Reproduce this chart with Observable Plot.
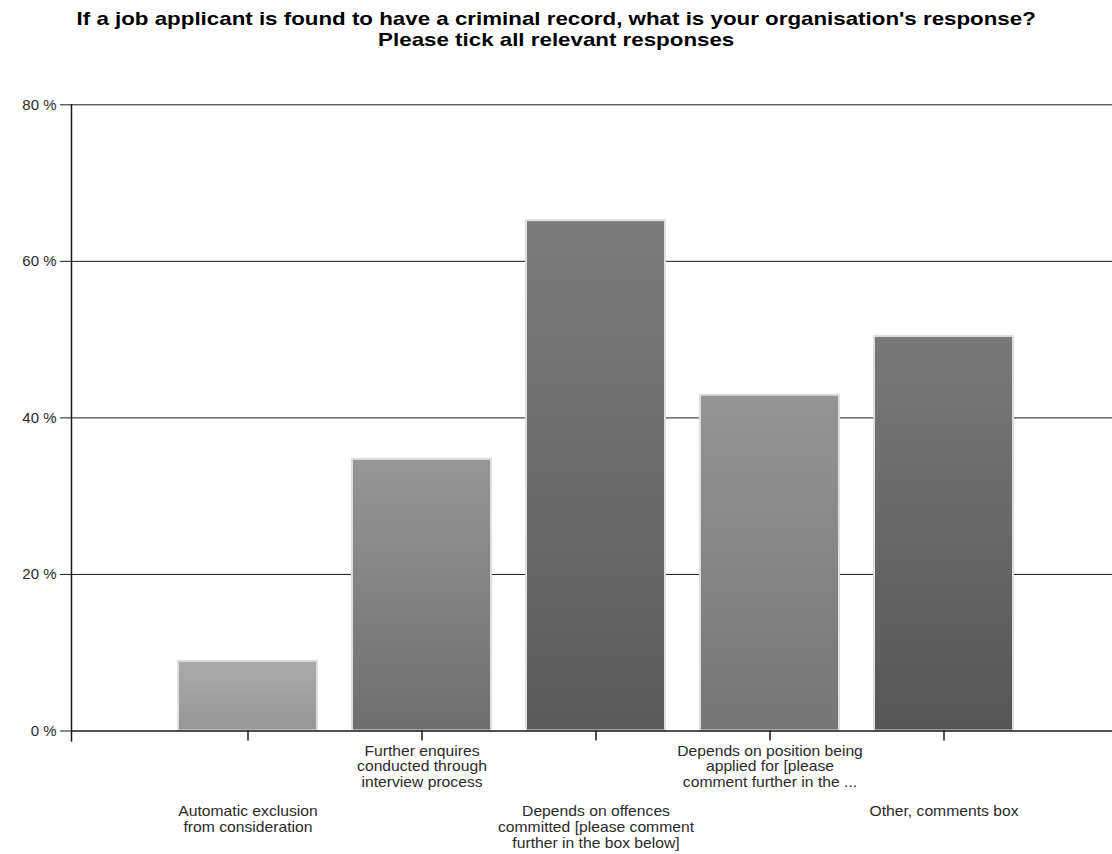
<!DOCTYPE html>
<html>
<head>
<meta charset="utf-8">
<script src="https://cdn.jsdelivr.net/npm/d3@7"></script>
<script src="https://cdn.jsdelivr.net/npm/@observablehq/plot@0.6"></script>
<style>
  html, body { margin: 0; padding: 0; background: #fff; overflow: hidden; }
  #title {
    font-family: "Liberation Sans", Arial, sans-serif;
    font-weight: bold;
    font-size: 19px;
    line-height: 21px;
    text-align: center;
    color: #000;
    padding-top: 8px;
    height: 49px;
    box-sizing: content-box;
  }
  #title span { display: inline-block; transform: scaleX(1.175); transform-origin: 50% 50%; }
</style>
</head>
<body>
<div id="title"><span>If a job applicant is found to have a criminal record, what is your organisation's response?<br>Please tick all relevant responses</span></div>
<div id="chart"></div>
<script>
const categories = [
  "Automatic exclusion from consideration",
  "Further enquires conducted through interview process",
  "Depends on offences committed [please comment further in the box below]",
  "Depends on position being applied for [please comment further in the box below]",
  "Other, comments box"
];
const tickLabels = [
  "Automatic exclusion\nfrom consideration",
  "Further enquires\nconducted through\ninterview process",
  "Depends on offences\ncommitted [please comment\nfurther in the box below]",
  "Depends on position being\napplied for [please\ncomment further in the ...",
  "Other, comments box"
];
const percentages = [8.9, 34.7, 65.2, 42.9, 50.4];
const yTicks = [0, 20, 40, 60, 80];

const data = categories.map((c, i) => ({category: c, value: percentages[i], index: i}));
const labelOf = new Map(categories.map((c, i) => [c, tickLabels[i]]));
const upperRow = categories.filter((d, i) => i % 2 === 1);
const lowerRow = categories.filter((d, i) => i % 2 === 0);

// bar shading (top colour, bottom colour)
const shades = [
  ["#aaaaaa", "#969696"],
  ["#969696", "#6e6e6e"],
  ["#7c7c7c", "#5b5b5b"],
  ["#949494", "#767676"],
  ["#797979", "#565656"]
];

const gradientDefs = () => {
  const defs = d3.create("svg:defs");
  shades.forEach(([top, bottom], i) => {
    const g = defs.append("linearGradient")
      .attr("id", "barShade" + i)
      .attr("x1", 0).attr("y1", 0).attr("x2", 0).attr("y2", 1);
    g.append("stop").attr("offset", "0%").attr("stop-color", top);
    g.append("stop").attr("offset", "100%").attr("stop-color", bottom);
  });
  return defs.node();
};

const font = '"Liberation Sans", Arial, sans-serif';

const chart = Plot.plot({
  width: 1112,
  height: 797,
  marginLeft: 71,
  marginRight: 0,
  marginTop: 47.3,
  marginBottom: 123.5,
  style: {fontFamily: font, background: "#fff", color: "#2a2a2a", overflow: "visible"},
  x: {domain: categories, range: [71, 1119.5], paddingInner: 0.2, paddingOuter: 0.6, label: null},
  y: {domain: [0, 80], label: null},
  color: {type: "identity"},
  marks: [
    gradientDefs,
    Plot.ruleY(yTicks.filter(d => d > 0), {stroke: "#1a1a1a", strokeWidth: 1}),
    Plot.barY(data, {
      x: "category",
      y: "value",
      fill: d => `url(#barShade${d.index})`,
      stroke: "#dedede",
      strokeWidth: 2
    }),
    Plot.ruleY([0], {stroke: "#1a1a1a", strokeWidth: 1.5}),
    Plot.frame({anchor: "left", insetBottom: -10, stroke: "#1a1a1a", strokeWidth: 1.5}),
    Plot.axisY({
      ticks: yTicks,
      tickFormat: d => `${d} %`,
      tickSize: 11,
      tickPadding: 4,
      fontSize: 15,
      label: null,
      stroke: "#1a1a1a"
    }),
    Plot.axisX(upperRow, {
      tickSize: 10,
      tickPadding: 4,
      tickFormat: d => labelOf.get(d),
      fontSize: 14,
      lineHeight: 1.1,
      label: null,
      stroke: "#1a1a1a",
      strokeWidth: 1.5
    }),
    Plot.axisX(lowerRow, {
      tickSize: 10,
      tickPadding: 64,
      tickFormat: d => labelOf.get(d),
      fontSize: 14,
      lineHeight: 1.13,
      label: null,
      stroke: "#1a1a1a",
      strokeWidth: 1.5
    })
  ]
});
document.getElementById("chart").appendChild(chart);

// widen the category label glyphs horizontally, as in the reference rendering
chart.querySelectorAll('g[aria-label="x-axis tick label"] text').forEach(t => {
  const tr = t.getAttribute("transform");
  if (tr) t.setAttribute("transform", tr + " scale(1.12,1)");
});
</script>
</body>
</html>
